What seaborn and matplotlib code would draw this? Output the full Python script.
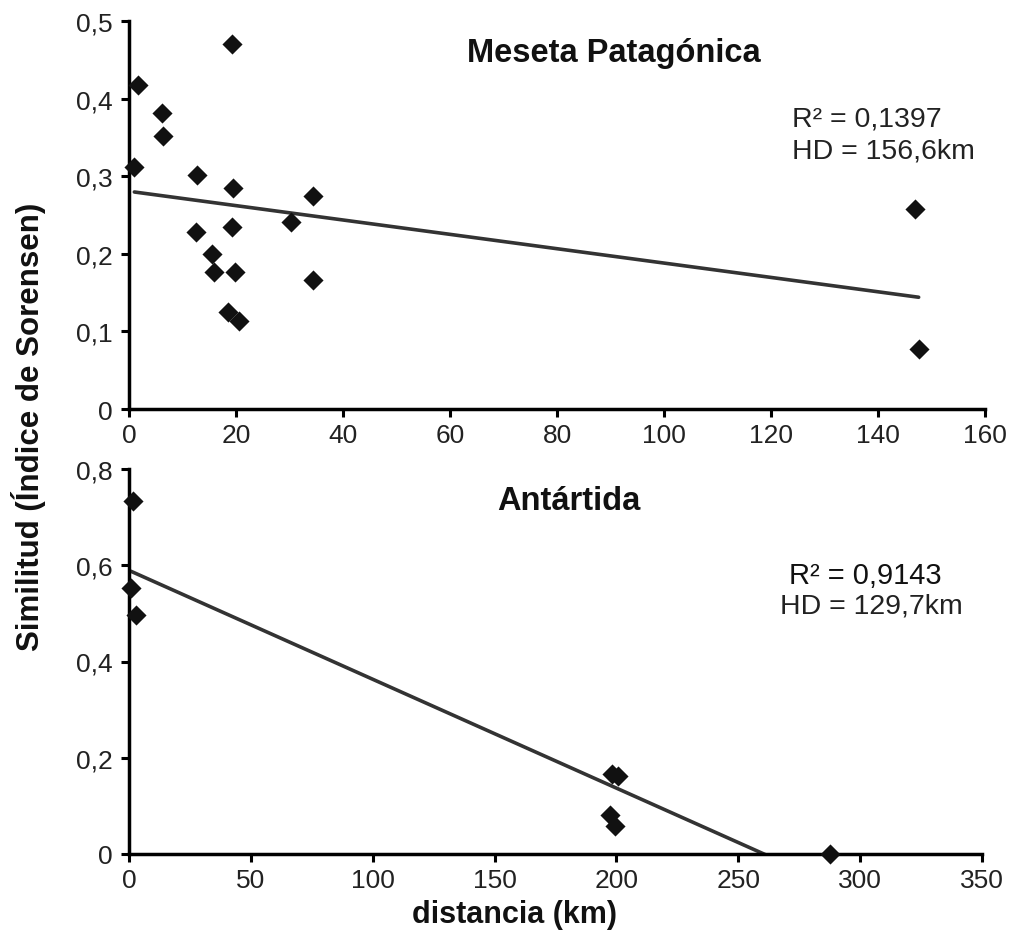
import matplotlib
matplotlib.use("Agg")
import matplotlib.pyplot as plt
import seaborn as sns
import numpy as np
import pandas as pd
from matplotlib.ticker import FuncFormatter, FixedLocator

sns.set_style("white")
plt.rcParams['font.family'] = ['Liberation Sans', 'DejaVu Sans']

# Meseta Patagónica
meseta_dist = [1.7, 19.3, 6.1, 6.4, 1.0, 12.8, 19.5, 34.4, 30.3, 12.5, 19.3, 15.5, 15.9, 19.8, 34.4, 18.5, 20.5, 147.0, 147.6]
meseta_sim = [0.417, 0.470, 0.381, 0.352, 0.312, 0.302, 0.285, 0.275, 0.241, 0.228, 0.235, 0.200, 0.177, 0.177, 0.166, 0.125, 0.114, 0.258, 0.077]

# Antártida
ant_dist = [1.7, 0.8, 3.0, 198.0, 200.7, 197.4, 199.4, 287.6]
ant_sim = [0.733, 0.553, 0.497, 0.166, 0.163, 0.081, 0.059, 0.0]

top_yticks = [0, 0.1, 0.2, 0.3, 0.4, 0.5]
top_xticks = [0, 20, 40, 60, 80, 100, 120, 140, 160]
bot_yticks = [0, 0.2, 0.4, 0.6, 0.8]
bot_xticks = [0, 50, 100, 150, 200, 250, 300, 350]

df_m = pd.DataFrame({"dist": meseta_dist, "sim": meseta_sim})
df_a = pd.DataFrame({"dist": ant_dist, "sim": ant_sim})

W, H = 1010, 937
fig = plt.figure(figsize=(W / 100, H / 100), dpi=100)
ax1 = fig.add_axes([129 / W, 1 - 410 / H, (985 - 129) / W, (410 - 22) / H])
ax2 = fig.add_axes([129 / W, 1 - 855 / H, (982 - 129) / W, (855 - 470) / H])

def comma(v, pos):
    if v == 0:
        return "0"
    return ("%g" % v).replace(".", ",")

for ax, df, xt, yt in [(ax1, df_m, top_xticks, top_yticks), (ax2, df_a, bot_xticks, bot_yticks)]:
    sns.regplot(data=df, x="dist", y="sim", ax=ax, ci=None, marker="D",
                scatter_kws={"s": 105, "color": "#111111", "alpha": 1, "clip_on": False,
                             "zorder": 3, "linewidths": 0},
                line_kws={"color": "#333333", "lw": 2.6, "zorder": 2})
    ax.set_xlim(xt[0], xt[-1])
    ax.set_ylim(yt[0], yt[-1])
    ax.xaxis.set_major_locator(FixedLocator(xt))
    ax.yaxis.set_major_locator(FixedLocator(yt))
    ax.yaxis.set_major_formatter(FuncFormatter(comma))
    ax.set_xlabel("")
    ax.set_ylabel("")
    for sp in ["top", "right"]:
        ax.spines[sp].set_visible(False)
    for sp in ["left", "bottom"]:
        ax.spines[sp].set_color("black")
        ax.spines[sp].set_linewidth(2.5)
    ax.tick_params(axis="both", direction="out", length=6, width=2.2, color="black",
                   labelsize=19, labelcolor="#222222", left=True, bottom=True)
    ax.tick_params(axis="y", pad=6)
    ax.tick_params(axis="x", pad=4)

def ft(x, y, s, **kw):
    fig.text(x / W, 1 - y / H, s, **kw)

ft(614, 62, "Meseta Patagónica", ha="center", va="baseline", fontsize=23.5, fontweight="bold", color="#111111")
ft(792, 127, "R² = 0,1397", ha="left", va="baseline", fontsize=20.5, color="#222222")
ft(792, 158, "HD = 156,6km", ha="left", va="baseline", fontsize=20.5, color="#222222")
ft(569, 510, "Antártida", ha="center", va="baseline", fontsize=23.5, fontweight="bold", color="#111111")
ft(789, 584, "R² = 0,9143", ha="left", va="baseline", fontsize=21, color="#111111")
ft(780, 614, "HD = 129,7km", ha="left", va="baseline", fontsize=20.5, color="#222222")
ft(29, 427, "Similitud (Índice de Sorensen)", ha="center", va="center", rotation=90,
   fontsize=22.5, fontweight="bold", color="#111111")
ft(515, 915, "distancia (km)", ha="center", va="center", fontsize=22, fontweight="bold", color="#111111")

fig.savefig("out.png", dpi=100, facecolor="white")
